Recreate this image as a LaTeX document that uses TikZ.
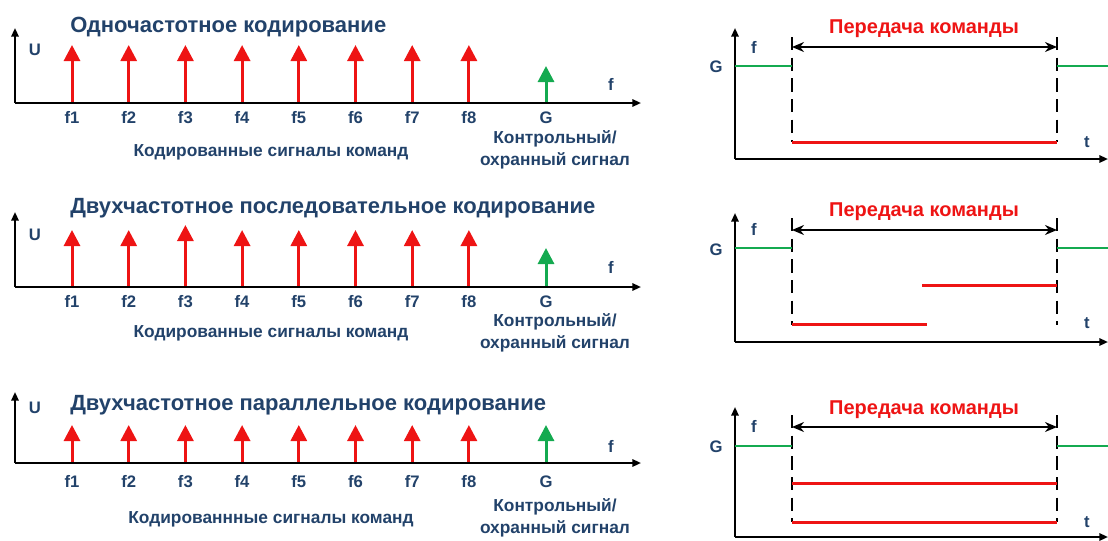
\documentclass[tikz,border=0pt]{standalone}
\usepackage{fontspec}
\setmainfont{Liberation Sans}
\usetikzlibrary{arrows.meta}
\definecolor{txtblue}{HTML}{22426A}
\definecolor{sigred}{HTML}{EE1414}
\definecolor{grdgreen}{HTML}{14AA50}
\begin{document}
\begin{tikzpicture}[x=0.75pt,y=-0.75pt,
  axisline/.style={black, line width=1.5pt, -{Triangle[length=6.5pt,width=5.5pt]}},
  sigarrow/.style={sigred, line width=2.25pt, -{Triangle[length=12pt,width=12pt]}},
  grdarrow/.style={grdgreen, line width=2.25pt, -{Triangle[length=12pt,width=12pt]}},
  grdline/.style={grdgreen, line width=2.1pt},
  redline/.style={sigred, line width=2.25pt},
  dashline/.style={black, line width=1.5pt, dash pattern=on 10pt off 5.5pt},
  spanarrow/.style={black, line width=1.2pt, {Stealth[length=9pt,width=7.5pt]}-{Stealth[length=9pt,width=7.5pt]}},
  ttl/.style={text=txtblue, font=\bfseries\fontsize{16.5}{18}\selectfont, anchor=base west, inner sep=0pt},
  lbl/.style={text=txtblue, font=\bfseries\fontsize{12.5}{14}\selectfont, anchor=base, inner sep=0pt},
  capt/.style={text=txtblue, font=\bfseries\fontsize{13}{16.5}\selectfont, anchor=base, inner sep=0pt, align=center},
  cmd/.style={text=sigred, font=\bfseries\fontsize{15}{17}\selectfont, anchor=base, inner sep=0pt}
]
\useasboundingbox (0,0) rectangle (1108,540);

% ---------- left panels ----------
\foreach \i/\A/\T/\R/\Gt/\tb/\lb/\fb/\ub/\cb/\kb/\ttext/\ctext in {
  1/103/28/45/66/32/123/90/55/156/165/{Одночастотное кодирование}/{Кодированные сигналы команд},
  2/287/212/230/248/213/307/273/240/337/348/{Двухчастотное последовательное кодирование}/{Кодированные сигналы команд},
  3/463/392/425/425/410/487/452/413/523/533/{Двухчастотное параллельное кодирование}/{Кодированнные сигналы команд}} {
  \coordinate (o\i) at (15,\A);
  \coordinate (yt\i) at (15,\T);
  \coordinate (xe\i) at (641,\A);
  \draw[axisline] (o\i) -- (yt\i);
  \draw[axisline] (o\i) -- (xe\i);
  \node[ttl] (title\i) at (70,\tb) {\ttext};
  \node[lbl] (U\i) at (35,\ub) {U};
  \node[lbl] (fa\i) at (611,\fb) {f};
  \foreach \k in {1,...,8} {
    \pgfmathsetmacro\xx{72+(\k-1)*56.7}
    \pgfmathsetmacro\tip{((\i==2)&&(\k==3)) ? \R-5 : \R}
    \coordinate (b\i\k) at (\xx,\A-1);
    \coordinate (t\i\k) at (\xx,\tip);
    \draw[sigarrow] (b\i\k) -- (t\i\k);
    \node[lbl] (l\i\k) at (\xx,\lb) {f\k};
  }
  \coordinate (gb\i) at (546,\A-1);
  \coordinate (gt\i) at (546,\Gt);
  \draw[grdarrow] (gb\i) -- (gt\i);
  \node[lbl] (G\i) at (546,\lb) {G};
  \node[capt] (code\i) at (271,\cb) {\ctext};
  \node[capt] (ctrl\i) at (555,\kb) {Контрольный/\\охранный сигнал};
}

% ---------- right panels ----------
\foreach \j/\X/\T/\P/\D/\Gy/\gb/\fb/\DT/\DB/\tb in {
  1/159/28/33/47/66/72/53/37/142/147,
  2/342/213/216/230/248/255/235/218/325/328,
  3/537/407/414/427/446/452/432/415/522/527} {
  \coordinate (ro\j) at (735,\X);
  \coordinate (ryt\j) at (735,\T);
  \coordinate (rxe\j) at (1108,\X);
  \draw[axisline] (ro\j) -- (ryt\j);
  \draw[axisline] (ro\j) -- (rxe\j);
  \node[lbl] (rG\j) at (716,\gb) {G};
  \node[lbl] (rf\j) at (754,\fb) {f};
  \node[lbl] (rt\j) at (1087,\tb) {t};
  \coordinate (dlt\j) at (792,\DT);
  \coordinate (dlb\j) at (792,\DB);
  \coordinate (drt\j) at (1057,\DT);
  \coordinate (drb\j) at (1057,\DB);
  \draw[dashline] (dlt\j) -- (dlb\j);
  \draw[dashline] (drt\j) -- (drb\j);
  \coordinate (sl\j) at (792,\D);
  \coordinate (sr\j) at (1057,\D);
  \draw[spanarrow] (sl\j) -- (sr\j);
  \node[cmd] (cmd\j) at (924,\P) {Передача команды};
  \coordinate (g0\j) at (735,\Gy);
  \coordinate (g1\j) at (792,\Gy);
  \coordinate (g2\j) at (1057,\Gy);
  \coordinate (g3\j) at (1108,\Gy);
  \draw[grdline] (g0\j) -- (g1\j);
  \draw[grdline] (g2\j) -- (g3\j);
}

% red command lines
\coordinate (r1a) at (792,142); \coordinate (r1b) at (1057,142);
\draw[redline] (r1a) -- (r1b);
\coordinate (r2a) at (792,324); \coordinate (r2b) at (927,324);
\draw[redline] (r2a) -- (r2b);
\coordinate (r2c) at (922,285); \coordinate (r2d) at (1057,285);
\draw[redline] (r2c) -- (r2d);
\coordinate (r3a) at (792,483); \coordinate (r3b) at (1057,483);
\draw[redline] (r3a) -- (r3b);
\coordinate (r3c) at (792,522); \coordinate (r3d) at (1057,522);
\draw[redline] (r3c) -- (r3d);
\end{tikzpicture}
\end{document}
